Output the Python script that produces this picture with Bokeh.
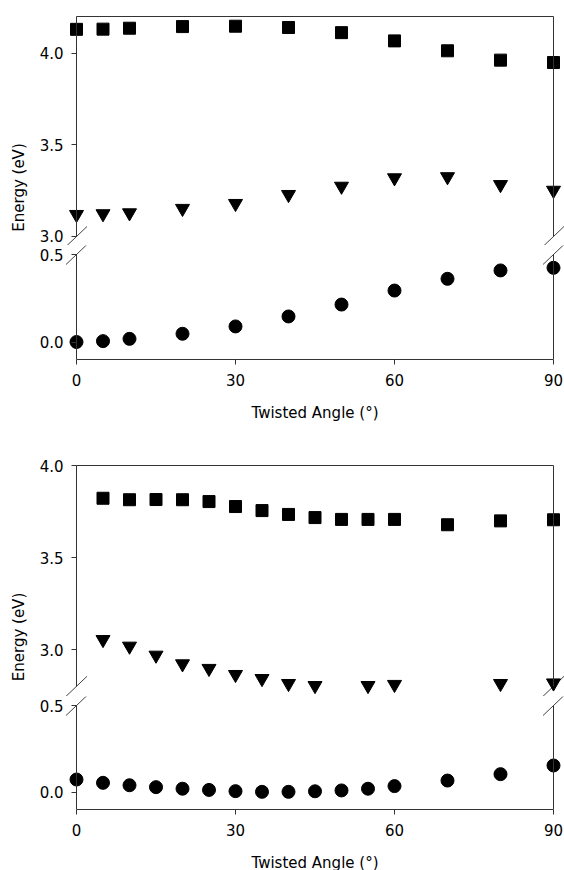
import math
from bokeh.plotting import figure
from bokeh.models import LinearAxis, FixedTicker, PrintfTickFormatter, Range1d, Label
from bokeh.layouts import column
from bokeh.embed import file_html
from bokeh.resources import INLINE

# ---------------- data ----------------
angles_top = [0, 5, 10, 20, 30, 40, 50, 60, 70, 80, 90]
squares_top = [4.130, 4.131, 4.136, 4.145, 4.147, 4.140, 4.112, 4.067, 4.013, 3.962, 3.949]
triangles_top = [3.120, 3.124, 3.129, 3.153, 3.180, 3.229, 3.274, 3.320, 3.326, 3.283, 3.252]
circles_top = [0.000, 0.005, 0.018, 0.047, 0.089, 0.146, 0.214, 0.294, 0.361, 0.409, 0.424]

angles_bot_sq = [5, 10, 15, 20, 25, 30, 35, 40, 45, 50, 55, 60, 70, 80, 90]
squares_bot = [3.822, 3.814, 3.815, 3.814, 3.804, 3.777, 3.755, 3.734, 3.717, 3.707,
               3.707, 3.707, 3.678, 3.699, 3.705]
angles_bot_tri = [5, 10, 15, 20, 25, 30, 35, 40, 45, 55, 60, 80, 90]
triangles_bot = [3.054, 3.018, 2.969, 2.922, 2.897, 2.864, 2.842, 2.815, 2.804, 2.804,
                 2.810, 2.815, 2.818]
angles_bot_ci = [0, 5, 10, 15, 20, 25, 30, 35, 40, 45, 50, 55, 60, 70, 80, 90]
circles_bot = [0.073, 0.054, 0.040, 0.029, 0.020, 0.013, 0.006, 0.002, 0.002, 0.005,
               0.010, 0.020, 0.035, 0.067, 0.104, 0.154]

x_ticks = [0, 30, 60, 90]
x_extent = (0, 90)
upper_ticks = [3.0, 3.5, 4.0]
lower_ticks = [0.0, 0.5]
top_upper_seg = (3.0, 4.2)
top_lower_seg = (-0.1, 0.5)
bot_upper_seg = (2.8, 4.0)
bot_lower_seg = (-0.1, 0.5)
x_title = "Twisted Angle (°)"
y_title = "Energy (eV)"

# ---------------- geometry / style ----------------
FONT = "DejaVu Sans"
FS = "15px"
AX = "#333333"
W = 564
PXD = 5.3          # pixels per degree
X0_PX = 76         # pixels from frame left to angle 0
xr = Range1d(-X0_PX / PXD, (W - X0_PX) / PXD)


def base_fig(height, yr, top, bottom):
    p = figure(width=W, height=height, x_range=xr, y_range=yr,
               x_axis_type=None, y_axis_type=None,
               output_backend="svg", toolbar_location=None,
               min_border_left=0, min_border_right=0,
               min_border_top=top, min_border_bottom=bottom,
               outline_line_color=None, background_fill_color="white",
               border_fill_color="white")
    return p


def spine(loc=None, bounds=None):
    ax = LinearAxis(ticker=FixedTicker(ticks=[]), bounds=bounds,
                    axis_line_color=AX, axis_line_width=1,
                    major_tick_out=0, major_tick_in=0,
                    minor_tick_out=0, minor_tick_in=0,
                    major_label_standoff=0,
                    major_label_text_font_size="0px")
    if loc is not None:
        ax.fixed_location = loc
    return ax


def y_axis(ticks, seg):
    return LinearAxis(ticker=FixedTicker(ticks=ticks), bounds=seg, fixed_location=x_extent[0],
                      formatter=PrintfTickFormatter(format="%.1f"),
                      axis_line_color=AX, axis_line_width=1,
                      major_tick_line_color=AX, major_tick_out=5, major_tick_in=0,
                      minor_tick_line_color=None,
                      major_label_standoff=8,
                      major_label_text_font=FONT, major_label_text_font_size=FS,
                      major_label_text_color="black")


def x_axis():
    return LinearAxis(ticker=FixedTicker(ticks=x_ticks), bounds=x_extent,
                      axis_line_color=AX, axis_line_width=1,
                      major_tick_line_color=AX, major_tick_out=5, major_tick_in=0,
                      minor_tick_line_color=None,
                      major_label_standoff=9,
                      major_label_text_font=FONT, major_label_text_font_size=FS,
                      major_label_text_color="black")


def breaks(p, yb, scale):
    dx = 10.5 / PXD
    dy = 10.0 / scale
    xs = list(x_extent)
    p.segment(x0=[c - dx for c in xs], y0=[yb - dy] * 2,
              x1=[c + dx for c in xs], y1=[yb + dy] * 2,
              line_color="#444444", line_width=1)


def markers_sq(p, x, y):
    p.scatter(x, y, marker="square", size=12, fill_color="black", line_color="black")


def markers_tri(p, x, y):
    p.scatter(x, y, marker="inverted_triangle", size=14, fill_color="black", line_color="black")


def markers_ci(p, x, y):
    p.scatter(x, y, marker="circle", size=13, fill_color="black", line_color="black")


def upper_panel(height, top_px, frame_h, seg, scale, ylab_y, ticks):
    # frame starts at the canvas top; top_px = pixels between canvas top and the top spine
    lo, hi = seg
    p = base_fig(height, Range1d(hi + top_px / scale - frame_h / scale, hi + top_px / scale), 0, 0)
    p.add_layout(y_axis(ticks, seg), "left")
    p.add_layout(spine(loc=x_extent[1], bounds=seg), "right")
    p.add_layout(spine(loc=hi, bounds=x_extent), "above")
    breaks(p, lo, scale)
    p.add_layout(Label(x=18.5, y=ylab_y, x_units="screen", y_units="screen",
                       text=y_title, angle=math.pi / 2, text_align="center",
                       text_baseline="middle", text_font=FONT, text_font_size=FS,
                       text_color="black"))
    return p


def lower_panel(height, bottom, frame_h, seg, scale):
    lo, hi = seg
    p = base_fig(height, Range1d(lo, lo + frame_h / scale), 0, bottom)
    p.add_layout(y_axis(lower_ticks, seg), "left")
    p.add_layout(spine(loc=x_extent[1], bounds=seg), "right")
    p.add_layout(x_axis(), "below")
    breaks(p, hi, scale)
    return p


def title_strip(height, y_from_bottom):
    p = base_fig(height, Range1d(0, 1), 0, 0)
    p.add_layout(Label(x=(x_extent[0] + x_extent[1]) / 2, y=y_from_bottom,
                       x_units="data", y_units="screen", text=x_title,
                       text_align="center", text_baseline="middle",
                       text_font=FONT, text_font_size=FS, text_color="black"))
    return p


# top panel (canvas 0-245 / 245-400 / 400-455)
pa = upper_panel(245, 16, 245, top_upper_seg, 183.33, 58, upper_ticks)
markers_sq(pa, angles_top, squares_top)
markers_tri(pa, angles_top, triangles_top)

pb = lower_panel(155, 41, 114, top_lower_seg, 175.0)
markers_ci(pb, angles_top, circles_top)

pe = title_strip(55, 42.5)

# bottom panel (canvas 455-696 / 696-845 / 845-870)
pc = upper_panel(241, 10, 241, bot_upper_seg, 184.0, 59.5, upper_ticks)
markers_sq(pc, angles_bot_sq, squares_bot)
markers_tri(pc, angles_bot_tri, triangles_bot)

pd = lower_panel(149, 36, 113, bot_lower_seg, 173.3)
markers_ci(pd, angles_bot_ci, circles_bot)

pf = title_strip(25, 8)

layout = column(pa, pb, pe, pc, pd, pf, spacing=0)

open("out.html", "w").write(file_html(layout, INLINE, title="Energy vs Twisted Angle"))
